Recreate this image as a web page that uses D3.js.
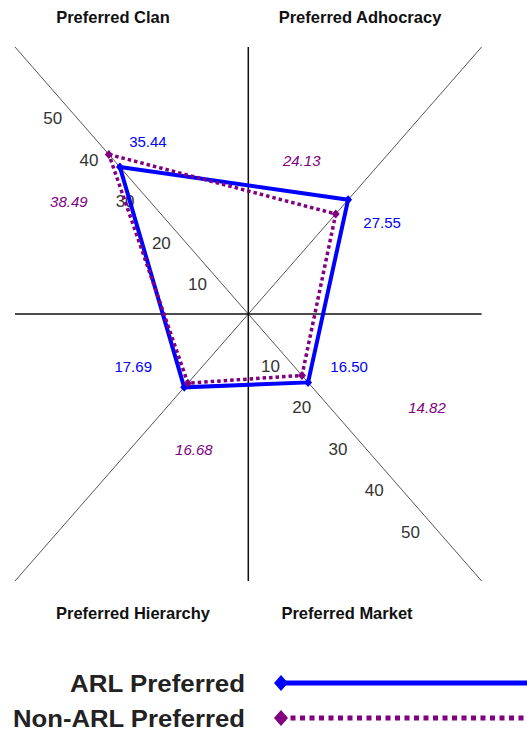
<!DOCTYPE html>
<html>
<head>
<meta charset="utf-8">
<script src="https://cdn.jsdelivr.net/npm/d3@7"></script>
<style>
  html, body { margin: 0; padding: 0; background: #fff; }
  svg { display: block; font-family: Arial, "Liberation Sans", sans-serif; }
</style>
</head>
<body>
<div id="chart"></div>
<script>
// data
const categories = ["Preferred Clan", "Preferred Adhocracy", "Preferred Market", "Preferred Hierarchy"];
const arlPreferred = [35.44, 27.55, 16.50, 17.69];
const nonArlPreferred = [38.49, 24.13, 14.82, 16.68];
const tickValues = [10, 20, 30, 40, 50];
const seriesNames = ["ARL Preferred", "Non-ARL Preferred"];

// layout
const W = 527, H = 732;
const EXTENT = 64.4;
// direction of each category in the x/y plane
const dirs = [[-1, 1], [1, 1], [1, -1], [-1, -1]];
// pixel offsets of the value labels from their point
const arlLabelOffsets = [[28, -26], [34, 23], [41, -16], [-51, -21]];
const nonArlLabelOffsets = [[-40, 47], [-34, -53], [125, 32], [6, 66]];
const titlePos = [[113, 17], [360, 17], [347, 613], [133, 613]];

const svg = d3.select("#chart").append("svg")
    .attr("width", W)
    .attr("height", H);

const x = d3.scaleLinear().domain([-EXTENT, EXTENT]).range([15, 481.6]);
const y = d3.scaleLinear().domain([-EXTENT, EXTENT]).range([581, 47]);

// axes
const g = svg.append("g");

dirs.slice(0, 2).forEach(d => {
    g.append("line")
        .attr("x1", x(d[0] * EXTENT)).attr("y1", y(d[1] * EXTENT))
        .attr("x2", x(-d[0] * EXTENT)).attr("y2", y(-d[1] * EXTENT))
        .style("stroke", "#555")
        .style("stroke-width", 1);
});

g.append("line")
    .attr("x1", x(0)).attr("y1", y(EXTENT))
    .attr("x2", x(0)).attr("y2", y(-EXTENT))
    .style("stroke", "#111")
    .style("stroke-width", 1.5);

g.append("line")
    .attr("x1", x(-EXTENT)).attr("y1", y(0))
    .attr("x2", x(EXTENT)).attr("y2", y(0))
    .style("stroke", "#111")
    .style("stroke-width", 1.5);

// tick labels along the clan and market diagonals
tickValues.forEach(t => {
    g.append("text")
        .attr("x", x(-t) - 14.5)
        .attr("y", y(t) + 12)
        .attr("text-anchor", "middle")
        .attr("dominant-baseline", "central")
        .style("font-size", "17px")
        .style("fill", "#333")
        .text(t);
    g.append("text")
        .attr("x", x(t) - (t === 10 ? 14 : 19))
        .attr("y", y(-t) + 11)
        .attr("text-anchor", "middle")
        .attr("dominant-baseline", "central")
        .style("font-size", "17px")
        .style("fill", "#333")
        .text(t);
});

// category titles
categories.forEach((c, i) => {
    svg.append("text")
        .attr("x", titlePos[i][0])
        .attr("y", titlePos[i][1])
        .attr("text-anchor", "middle")
        .attr("dominant-baseline", "central")
        .style("font-size", "16.5px")
        .style("font-weight", "bold")
        .style("fill", "#111")
        .text(c);
});

function diamond(w, h) {
    return `M0,${-h / 2}L${w / 2},0L0,${h / 2}L${-w / 2},0Z`;
}

function pts(values) {
    return values.map((v, i) => [x(dirs[i][0] * v), y(dirs[i][1] * v)]);
}

const series = [
    { values: arlPreferred, color: "#0000ff", dash: null, width: 4, italic: false, offsets: arlLabelOffsets },
    { values: nonArlPreferred, color: "#800080", dash: "3.5,3", width: 3.5, italic: true, offsets: nonArlLabelOffsets }
];

const line = d3.line().curve(d3.curveLinearClosed);

series.forEach(s => {
    const p = pts(s.values);
    svg.append("path")
        .attr("d", line(p))
        .style("fill", "none")
        .style("stroke", s.color)
        .style("stroke-width", s.width)
        .style("stroke-dasharray", s.dash);
    p.forEach(q => {
        svg.append("path")
            .attr("d", diamond(8, 9))
            .attr("transform", `translate(${q[0]},${q[1]})`)
            .style("fill", s.color);
    });
});

// value labels
series.forEach(s => {
    pts(s.values).forEach((q, i) => {
        svg.append("text")
            .attr("x", q[0] + s.offsets[i][0])
            .attr("y", q[1] + s.offsets[i][1])
            .attr("text-anchor", "middle")
            .attr("dominant-baseline", "central")
            .style("font-size", "15px")
            .style("font-style", s.italic ? "italic" : "normal")
            .style("fill", s.color)
            .text(s.values[i].toFixed(2));
    });
});

// legend
const legendRows = [683, 718];
const legendLen = [175, 232];
seriesNames.forEach((n, i) => {
    const s = series[i];
    const ly = legendRows[i];
    svg.append("text")
        .attr("x", 245)
        .attr("y", ly)
        .attr("text-anchor", "end")
        .attr("dominant-baseline", "central")
        .attr("textLength", legendLen[i])
        .attr("lengthAdjust", "spacingAndGlyphs")
        .style("font-size", "24px")
        .style("font-weight", "bold")
        .style("fill", "#222")
        .text(n);
    svg.append("line")
        .attr("x1", 281).attr("y1", ly)
        .attr("x2", W + 5).attr("y2", ly)
        .style("stroke", s.color)
        .style("stroke-width", 5)
        .style("stroke-dasharray", s.dash ? "5,4.5" : null);
    svg.append("path")
        .attr("d", diamond(14, 16))
        .attr("transform", `translate(281,${ly})`)
        .style("fill", s.color);
});
</script>
</body>
</html>
